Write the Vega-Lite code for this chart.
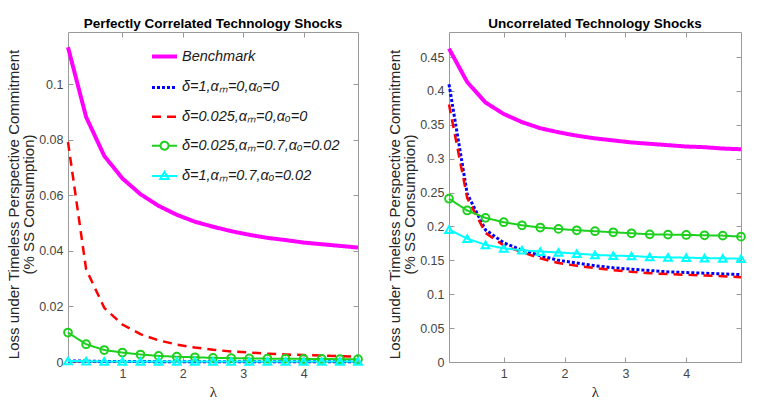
{
"$schema": "https://vega.github.io/schema/vega-lite/v6.json",
"padding": {"left": 6, "top": 17, "right": 5, "bottom": 2},
"background": "white",
"data": {"values": [
{"panel":"L","series":"Benchmark","lambda":0.1,"loss":0.1133},{"panel":"L","series":"Benchmark","lambda":0.4,"loss":0.0882},{"panel":"L","series":"Benchmark","lambda":0.7,"loss":0.0742},{"panel":"L","series":"Benchmark","lambda":1.0,"loss":0.0661},{"panel":"L","series":"Benchmark","lambda":1.3,"loss":0.0604},{"panel":"L","series":"Benchmark","lambda":1.6,"loss":0.0562},{"panel":"L","series":"Benchmark","lambda":1.9,"loss":0.0530},{"panel":"L","series":"Benchmark","lambda":2.2,"loss":0.0505},{"panel":"L","series":"Benchmark","lambda":2.5,"loss":0.0487},{"panel":"L","series":"Benchmark","lambda":2.8,"loss":0.0471},{"panel":"L","series":"Benchmark","lambda":3.1,"loss":0.0458},{"panel":"L","series":"Benchmark","lambda":3.4,"loss":0.0447},{"panel":"L","series":"Benchmark","lambda":3.7,"loss":0.0439},{"panel":"L","series":"Benchmark","lambda":4.0,"loss":0.0430},{"panel":"L","series":"Benchmark","lambda":4.3,"loss":0.0424},{"panel":"L","series":"Benchmark","lambda":4.6,"loss":0.0418},{"panel":"L","series":"Benchmark","lambda":4.9,"loss":0.0412},
{"panel":"L","series":"δ=1,αₘ=0,αₒ=0","lambda":0.1,"loss":0.0004},{"panel":"L","series":"δ=1,αₘ=0,αₒ=0","lambda":0.4,"loss":0.0003},{"panel":"L","series":"δ=1,αₘ=0,αₒ=0","lambda":0.7,"loss":0.0002},{"panel":"L","series":"δ=1,αₘ=0,αₒ=0","lambda":1.0,"loss":0.0002},{"panel":"L","series":"δ=1,αₘ=0,αₒ=0","lambda":1.3,"loss":0.0002},{"panel":"L","series":"δ=1,αₘ=0,αₒ=0","lambda":1.6,"loss":0.0001},{"panel":"L","series":"δ=1,αₘ=0,αₒ=0","lambda":1.9,"loss":0.0001},{"panel":"L","series":"δ=1,αₘ=0,αₒ=0","lambda":2.2,"loss":0.0001},{"panel":"L","series":"δ=1,αₘ=0,αₒ=0","lambda":2.5,"loss":0.0001},{"panel":"L","series":"δ=1,αₘ=0,αₒ=0","lambda":2.8,"loss":0.0001},{"panel":"L","series":"δ=1,αₘ=0,αₒ=0","lambda":3.1,"loss":0.0001},{"panel":"L","series":"δ=1,αₘ=0,αₒ=0","lambda":3.4,"loss":0.0001},{"panel":"L","series":"δ=1,αₘ=0,αₒ=0","lambda":3.7,"loss":0.0001},{"panel":"L","series":"δ=1,αₘ=0,αₒ=0","lambda":4.0,"loss":0.0001},{"panel":"L","series":"δ=1,αₘ=0,αₒ=0","lambda":4.3,"loss":0.0001},{"panel":"L","series":"δ=1,αₘ=0,αₒ=0","lambda":4.6,"loss":0.0001},{"panel":"L","series":"δ=1,αₘ=0,αₒ=0","lambda":4.9,"loss":0.0001},
{"panel":"L","series":"δ=0.025,αₘ=0,αₒ=0","lambda":0.1,"loss":0.0792},{"panel":"L","series":"δ=0.025,αₘ=0,αₒ=0","lambda":0.4,"loss":0.0334},{"panel":"L","series":"δ=0.025,αₘ=0,αₒ=0","lambda":0.7,"loss":0.0195},{"panel":"L","series":"δ=0.025,αₘ=0,αₒ=0","lambda":1.0,"loss":0.0135},{"panel":"L","series":"δ=0.025,αₘ=0,αₒ=0","lambda":1.3,"loss":0.0100},{"panel":"L","series":"δ=0.025,αₘ=0,αₒ=0","lambda":1.6,"loss":0.0078},{"panel":"L","series":"δ=0.025,αₘ=0,αₒ=0","lambda":1.9,"loss":0.0063},{"panel":"L","series":"δ=0.025,αₘ=0,αₒ=0","lambda":2.2,"loss":0.0052},{"panel":"L","series":"δ=0.025,αₘ=0,αₒ=0","lambda":2.5,"loss":0.0044},{"panel":"L","series":"δ=0.025,αₘ=0,αₒ=0","lambda":2.8,"loss":0.0038},{"panel":"L","series":"δ=0.025,αₘ=0,αₒ=0","lambda":3.1,"loss":0.0034},{"panel":"L","series":"δ=0.025,αₘ=0,αₒ=0","lambda":3.4,"loss":0.0030},{"panel":"L","series":"δ=0.025,αₘ=0,αₒ=0","lambda":3.7,"loss":0.0027},{"panel":"L","series":"δ=0.025,αₘ=0,αₒ=0","lambda":4.0,"loss":0.0025},{"panel":"L","series":"δ=0.025,αₘ=0,αₒ=0","lambda":4.3,"loss":0.0023},{"panel":"L","series":"δ=0.025,αₘ=0,αₒ=0","lambda":4.6,"loss":0.0021},{"panel":"L","series":"δ=0.025,αₘ=0,αₒ=0","lambda":4.9,"loss":0.0019},
{"panel":"L","series":"δ=0.025,αₘ=0.7,αₒ=0.02","lambda":0.1,"loss":0.0106},{"panel":"L","series":"δ=0.025,αₘ=0.7,αₒ=0.02","lambda":0.4,"loss":0.0064},{"panel":"L","series":"δ=0.025,αₘ=0.7,αₒ=0.02","lambda":0.7,"loss":0.0043},{"panel":"L","series":"δ=0.025,αₘ=0.7,αₒ=0.02","lambda":1.0,"loss":0.0034},{"panel":"L","series":"δ=0.025,αₘ=0.7,αₒ=0.02","lambda":1.3,"loss":0.0027},{"panel":"L","series":"δ=0.025,αₘ=0.7,αₒ=0.02","lambda":1.6,"loss":0.0022},{"panel":"L","series":"δ=0.025,αₘ=0.7,αₒ=0.02","lambda":1.9,"loss":0.0019},{"panel":"L","series":"δ=0.025,αₘ=0.7,αₒ=0.02","lambda":2.2,"loss":0.0017},{"panel":"L","series":"δ=0.025,αₘ=0.7,αₒ=0.02","lambda":2.5,"loss":0.0015},{"panel":"L","series":"δ=0.025,αₘ=0.7,αₒ=0.02","lambda":2.8,"loss":0.0014},{"panel":"L","series":"δ=0.025,αₘ=0.7,αₒ=0.02","lambda":3.1,"loss":0.0013},{"panel":"L","series":"δ=0.025,αₘ=0.7,αₒ=0.02","lambda":3.4,"loss":0.0012},{"panel":"L","series":"δ=0.025,αₘ=0.7,αₒ=0.02","lambda":3.7,"loss":0.0012},{"panel":"L","series":"δ=0.025,αₘ=0.7,αₒ=0.02","lambda":4.0,"loss":0.0011},{"panel":"L","series":"δ=0.025,αₘ=0.7,αₒ=0.02","lambda":4.3,"loss":0.0011},{"panel":"L","series":"δ=0.025,αₘ=0.7,αₒ=0.02","lambda":4.6,"loss":0.0010},{"panel":"L","series":"δ=0.025,αₘ=0.7,αₒ=0.02","lambda":4.9,"loss":0.0010},
{"panel":"L","series":"δ=1,αₘ=0.7,αₒ=0.02","lambda":0.1,"loss":0.0004},{"panel":"L","series":"δ=1,αₘ=0.7,αₒ=0.02","lambda":0.4,"loss":0.0003},{"panel":"L","series":"δ=1,αₘ=0.7,αₒ=0.02","lambda":0.7,"loss":0.0002},{"panel":"L","series":"δ=1,αₘ=0.7,αₒ=0.02","lambda":1.0,"loss":0.0002},{"panel":"L","series":"δ=1,αₘ=0.7,αₒ=0.02","lambda":1.3,"loss":0.0002},{"panel":"L","series":"δ=1,αₘ=0.7,αₒ=0.02","lambda":1.6,"loss":0.0002},{"panel":"L","series":"δ=1,αₘ=0.7,αₒ=0.02","lambda":1.9,"loss":0.0002},{"panel":"L","series":"δ=1,αₘ=0.7,αₒ=0.02","lambda":2.2,"loss":0.0002},{"panel":"L","series":"δ=1,αₘ=0.7,αₒ=0.02","lambda":2.5,"loss":0.0002},{"panel":"L","series":"δ=1,αₘ=0.7,αₒ=0.02","lambda":2.8,"loss":0.0002},{"panel":"L","series":"δ=1,αₘ=0.7,αₒ=0.02","lambda":3.1,"loss":0.0002},{"panel":"L","series":"δ=1,αₘ=0.7,αₒ=0.02","lambda":3.4,"loss":0.0002},{"panel":"L","series":"δ=1,αₘ=0.7,αₒ=0.02","lambda":3.7,"loss":0.0002},{"panel":"L","series":"δ=1,αₘ=0.7,αₒ=0.02","lambda":4.0,"loss":0.0002},{"panel":"L","series":"δ=1,αₘ=0.7,αₒ=0.02","lambda":4.3,"loss":0.0002},{"panel":"L","series":"δ=1,αₘ=0.7,αₒ=0.02","lambda":4.6,"loss":0.0002},{"panel":"L","series":"δ=1,αₘ=0.7,αₒ=0.02","lambda":4.9,"loss":0.0002},
{"panel":"R","series":"Benchmark","lambda":0.1,"loss":0.4625},{"panel":"R","series":"Benchmark","lambda":0.4,"loss":0.413},{"panel":"R","series":"Benchmark","lambda":0.7,"loss":0.383},{"panel":"R","series":"Benchmark","lambda":1.0,"loss":0.366},{"panel":"R","series":"Benchmark","lambda":1.3,"loss":0.354},{"panel":"R","series":"Benchmark","lambda":1.6,"loss":0.345},{"panel":"R","series":"Benchmark","lambda":1.9,"loss":0.339},{"panel":"R","series":"Benchmark","lambda":2.2,"loss":0.334},{"panel":"R","series":"Benchmark","lambda":2.5,"loss":0.330},{"panel":"R","series":"Benchmark","lambda":2.8,"loss":0.327},{"panel":"R","series":"Benchmark","lambda":3.1,"loss":0.324},{"panel":"R","series":"Benchmark","lambda":3.4,"loss":0.322},{"panel":"R","series":"Benchmark","lambda":3.7,"loss":0.320},{"panel":"R","series":"Benchmark","lambda":4.0,"loss":0.318},{"panel":"R","series":"Benchmark","lambda":4.3,"loss":0.317},{"panel":"R","series":"Benchmark","lambda":4.6,"loss":0.315},{"panel":"R","series":"Benchmark","lambda":4.9,"loss":0.314},
{"panel":"R","series":"δ=1,αₘ=0,αₒ=0","lambda":0.1,"loss":0.410},{"panel":"R","series":"δ=1,αₘ=0,αₒ=0","lambda":0.4,"loss":0.248},{"panel":"R","series":"δ=1,αₘ=0,αₒ=0","lambda":0.7,"loss":0.195},{"panel":"R","series":"δ=1,αₘ=0,αₒ=0","lambda":1.0,"loss":0.176},{"panel":"R","series":"δ=1,αₘ=0,αₒ=0","lambda":1.3,"loss":0.165},{"panel":"R","series":"δ=1,αₘ=0,αₒ=0","lambda":1.6,"loss":0.157},{"panel":"R","series":"δ=1,αₘ=0,αₒ=0","lambda":1.9,"loss":0.150},{"panel":"R","series":"δ=1,αₘ=0,αₒ=0","lambda":2.2,"loss":0.146},{"panel":"R","series":"δ=1,αₘ=0,αₒ=0","lambda":2.5,"loss":0.142},{"panel":"R","series":"δ=1,αₘ=0,αₒ=0","lambda":2.8,"loss":0.139},{"panel":"R","series":"δ=1,αₘ=0,αₒ=0","lambda":3.1,"loss":0.137},{"panel":"R","series":"δ=1,αₘ=0,αₒ=0","lambda":3.4,"loss":0.135},{"panel":"R","series":"δ=1,αₘ=0,αₒ=0","lambda":3.7,"loss":0.133},{"panel":"R","series":"δ=1,αₘ=0,αₒ=0","lambda":4.0,"loss":0.132},{"panel":"R","series":"δ=1,αₘ=0,αₒ=0","lambda":4.3,"loss":0.131},{"panel":"R","series":"δ=1,αₘ=0,αₒ=0","lambda":4.6,"loss":0.130},{"panel":"R","series":"δ=1,αₘ=0,αₒ=0","lambda":4.9,"loss":0.129},
{"panel":"R","series":"δ=0.025,αₘ=0,αₒ=0","lambda":0.1,"loss":0.380},{"panel":"R","series":"δ=0.025,αₘ=0,αₒ=0","lambda":0.4,"loss":0.242},{"panel":"R","series":"δ=0.025,αₘ=0,αₒ=0","lambda":0.7,"loss":0.1905},{"panel":"R","series":"δ=0.025,αₘ=0,αₒ=0","lambda":1.0,"loss":0.172},{"panel":"R","series":"δ=0.025,αₘ=0,αₒ=0","lambda":1.3,"loss":0.162},{"panel":"R","series":"δ=0.025,αₘ=0,αₒ=0","lambda":1.6,"loss":0.153},{"panel":"R","series":"δ=0.025,αₘ=0,αₒ=0","lambda":1.9,"loss":0.146},{"panel":"R","series":"δ=0.025,αₘ=0,αₒ=0","lambda":2.2,"loss":0.142},{"panel":"R","series":"δ=0.025,αₘ=0,αₒ=0","lambda":2.5,"loss":0.1385},{"panel":"R","series":"δ=0.025,αₘ=0,αₒ=0","lambda":2.8,"loss":0.1356},{"panel":"R","series":"δ=0.025,αₘ=0,αₒ=0","lambda":3.1,"loss":0.133},{"panel":"R","series":"δ=0.025,αₘ=0,αₒ=0","lambda":3.4,"loss":0.131},{"panel":"R","series":"δ=0.025,αₘ=0,αₒ=0","lambda":3.7,"loss":0.1297},{"panel":"R","series":"δ=0.025,αₘ=0,αₒ=0","lambda":4.0,"loss":0.1287},{"panel":"R","series":"δ=0.025,αₘ=0,αₒ=0","lambda":4.3,"loss":0.1277},{"panel":"R","series":"δ=0.025,αₘ=0,αₒ=0","lambda":4.6,"loss":0.1267},{"panel":"R","series":"δ=0.025,αₘ=0,αₒ=0","lambda":4.9,"loss":0.125},
{"panel":"R","series":"δ=0.025,αₘ=0.7,αₒ=0.02","lambda":0.1,"loss":0.241},{"panel":"R","series":"δ=0.025,αₘ=0.7,αₒ=0.02","lambda":0.4,"loss":0.2236},{"panel":"R","series":"δ=0.025,αₘ=0.7,αₒ=0.02","lambda":0.7,"loss":0.2127},{"panel":"R","series":"δ=0.025,αₘ=0.7,αₒ=0.02","lambda":1.0,"loss":0.2063},{"panel":"R","series":"δ=0.025,αₘ=0.7,αₒ=0.02","lambda":1.3,"loss":0.2018},{"panel":"R","series":"δ=0.025,αₘ=0.7,αₒ=0.02","lambda":1.6,"loss":0.1984},{"panel":"R","series":"δ=0.025,αₘ=0.7,αₒ=0.02","lambda":1.9,"loss":0.1964},{"panel":"R","series":"δ=0.025,αₘ=0.7,αₒ=0.02","lambda":2.2,"loss":0.1944},{"panel":"R","series":"δ=0.025,αₘ=0.7,αₒ=0.02","lambda":2.5,"loss":0.193},{"panel":"R","series":"δ=0.025,αₘ=0.7,αₒ=0.02","lambda":2.8,"loss":0.1914},{"panel":"R","series":"δ=0.025,αₘ=0.7,αₒ=0.02","lambda":3.1,"loss":0.190},{"panel":"R","series":"δ=0.025,αₘ=0.7,αₒ=0.02","lambda":3.4,"loss":0.1884},{"panel":"R","series":"δ=0.025,αₘ=0.7,αₒ=0.02","lambda":3.7,"loss":0.188},{"panel":"R","series":"δ=0.025,αₘ=0.7,αₒ=0.02","lambda":4.0,"loss":0.1875},{"panel":"R","series":"δ=0.025,αₘ=0.7,αₒ=0.02","lambda":4.3,"loss":0.187},{"panel":"R","series":"δ=0.025,αₘ=0.7,αₒ=0.02","lambda":4.6,"loss":0.1865},{"panel":"R","series":"δ=0.025,αₘ=0.7,αₒ=0.02","lambda":4.9,"loss":0.185},
{"panel":"R","series":"δ=1,αₘ=0.7,αₒ=0.02","lambda":0.1,"loss":0.1954},{"panel":"R","series":"δ=1,αₘ=0.7,αₒ=0.02","lambda":0.4,"loss":0.182},{"panel":"R","series":"δ=1,αₘ=0.7,αₒ=0.02","lambda":0.7,"loss":0.173},{"panel":"R","series":"δ=1,αₘ=0.7,αₒ=0.02","lambda":1.0,"loss":0.1677},{"panel":"R","series":"δ=1,αₘ=0.7,αₒ=0.02","lambda":1.3,"loss":0.165},{"panel":"R","series":"δ=1,αₘ=0.7,αₒ=0.02","lambda":1.6,"loss":0.163},{"panel":"R","series":"δ=1,αₘ=0.7,αₒ=0.02","lambda":1.9,"loss":0.1617},{"panel":"R","series":"δ=1,αₘ=0.7,αₒ=0.02","lambda":2.2,"loss":0.160},{"panel":"R","series":"δ=1,αₘ=0.7,αₒ=0.02","lambda":2.5,"loss":0.158},{"panel":"R","series":"δ=1,αₘ=0.7,αₒ=0.02","lambda":2.8,"loss":0.157},{"panel":"R","series":"δ=1,αₘ=0.7,αₒ=0.02","lambda":3.1,"loss":0.1564},{"panel":"R","series":"δ=1,αₘ=0.7,αₒ=0.02","lambda":3.4,"loss":0.155},{"panel":"R","series":"δ=1,αₘ=0.7,αₒ=0.02","lambda":3.7,"loss":0.1545},{"panel":"R","series":"δ=1,αₘ=0.7,αₒ=0.02","lambda":4.0,"loss":0.1539},{"panel":"R","series":"δ=1,αₘ=0.7,αₒ=0.02","lambda":4.3,"loss":0.1534},{"panel":"R","series":"δ=1,αₘ=0.7,αₒ=0.02","lambda":4.6,"loss":0.153},{"panel":"R","series":"δ=1,αₘ=0.7,αₒ=0.02","lambda":4.9,"loss":0.1524}
]},
"spacing": 21,
"hconcat": [
{
 "width": 290, "height": 330,
 "title": "Perfectly Correlated Technology Shocks",
 "transform": [{"filter": "datum.panel === 'L'"}],
 "resolve": {"axis": {"x": "independent", "y": "independent"}},
 "layer": [
  {"mark": {"type": "line", "strokeCap": "butt"},
   "encoding": {
    "x": {"field": "lambda", "type": "quantitative", "scale": {"domain": [0.1, 4.9], "nice": false, "zero": false}, "axis": {"values": [1, 2, 3, 4], "title": "λ", "titleFont": "Liberation Serif", "titleFontSize": 15, "titlePadding": 5}},
    "y": {"field": "loss", "type": "quantitative", "scale": {"domain": [0, 0.1188], "nice": false}, "axis": {"values": [0, 0.02, 0.04, 0.06, 0.08, 0.1], "format": "~g", "title": ["Loss under Timeless Perspective Commitment", "(% SS Consumption)"], "titleLineHeight": 15, "titlePadding": 2, "titleY": 172}},
    "color": {"field": "series", "type": "nominal",
      "scale": {"domain": ["Benchmark", "δ=1,αₘ=0,αₒ=0", "δ=0.025,αₘ=0,αₒ=0", "δ=0.025,αₘ=0.7,αₒ=0.02", "δ=1,αₘ=0.7,αₒ=0.02"], "range": ["#ff00ff", "#0000ff", "#ff0000", "#1ed01e", "#00ffff"]},
      "legend": {"orient": "none", "legendX": 82, "legendY": 10, "title": null, "symbolSize": 625, "labelFontSize": 14.5, "labelFontStyle": "italic", "labelFont": "Liberation Sans", "labelColor": "#1a1a1a", "rowPadding": 8.4, "labelOffset": 3, "padding": 0,
        "encode": {"symbols": {"update": {
          "shape": {"signal": "indexof(datum.value,'0.7') >= 0 ? (indexof(datum.value,'0.025') >= 0 ? 'M-1,0L-0.32,0M0.32,0L1,0M0.32,0A0.32,0.32,0,1,1,-0.32,0A0.32,0.32,0,1,1,0.32,0' : 'M-1,0L1,0M0,-0.34L0.34,0.24L-0.34,0.24Z') : 'stroke'"},
          "strokeWidth": {"signal": "datum.value === 'Benchmark' ? 4 : (indexof(datum.value,'0.7') >= 0 ? 2 : (indexof(datum.value,'0.025') >= 0 ? 2.5 : 3))"}}}}}},
    "strokeDash": {"field": "series", "type": "nominal", "scale": {"domain": ["Benchmark", "δ=1,αₘ=0,αₒ=0", "δ=0.025,αₘ=0,αₒ=0", "δ=0.025,αₘ=0.7,αₒ=0.02", "δ=1,αₘ=0.7,αₒ=0.02"], "range": [[1, 0], [3, 2], [9, 6], [1, 0], [1, 0]]}},
    "strokeWidth": {"field": "series", "type": "nominal", "legend": null, "scale": {"type": "ordinal", "domain": ["Benchmark", "δ=1,αₘ=0,αₒ=0", "δ=0.025,αₘ=0,αₒ=0", "δ=0.025,αₘ=0.7,αₒ=0.02", "δ=1,αₘ=0.7,αₒ=0.02"], "range": [4, 3, 2.5, 2, 2]}}
   }},
  {"mark": {"type": "point", "filled": false, "strokeWidth": 2, "size": 60, "opacity": 1},
   "transform": [{"filter": {"field": "series", "oneOf": ["δ=0.025,αₘ=0.7,αₒ=0.02", "δ=1,αₘ=0.7,αₒ=0.02"]}}],
   "encoding": {
    "x": {"field": "lambda", "type": "quantitative", "axis": {"orient": "top", "values": [1, 2, 3, 4], "labels": false, "title": null}},
    "y": {"field": "loss", "type": "quantitative", "axis": {"orient": "right", "values": [0, 0.02, 0.04, 0.06, 0.08, 0.1], "labels": false, "title": null}},
    "color": {"field": "series", "type": "nominal", "legend": null},
    "shape": {"field": "series", "type": "nominal", "scale": {"domain": ["δ=0.025,αₘ=0.7,αₒ=0.02", "δ=1,αₘ=0.7,αₒ=0.02"], "range": ["circle", "triangle-up"]}, "legend": null}
   }}
 ]
},
{
 "width": 292, "height": 330,
 "title": "Uncorrelated Technology Shocks",
 "transform": [{"filter": "datum.panel === 'R'"}],
 "resolve": {"axis": {"x": "independent", "y": "independent"}},
 "layer": [
  {"mark": {"type": "line", "strokeCap": "butt"},
   "encoding": {
    "x": {"field": "lambda", "type": "quantitative", "scale": {"domain": [0.1, 4.9], "nice": false, "zero": false}, "axis": {"values": [1, 2, 3, 4], "title": "λ", "titleFont": "Liberation Serif", "titleFontSize": 15, "titlePadding": 5}},
    "y": {"field": "loss", "type": "quantitative", "scale": {"domain": [0, 0.487], "nice": false}, "axis": {"values": [0, 0.05, 0.1, 0.15, 0.2, 0.25, 0.3, 0.35, 0.4, 0.45], "format": "~g", "title": ["Loss under Timeless Perspective Commitment", "(% SS Consumption)"], "titleLineHeight": 15, "titlePadding": 2, "titleY": 172}},
    "color": {"field": "series", "type": "nominal"},
    "strokeDash": {"field": "series", "type": "nominal"},
    "strokeWidth": {"field": "series", "type": "nominal", "legend": null, "scale": {"type": "ordinal", "domain": ["Benchmark", "δ=1,αₘ=0,αₒ=0", "δ=0.025,αₘ=0,αₒ=0", "δ=0.025,αₘ=0.7,αₒ=0.02", "δ=1,αₘ=0.7,αₒ=0.02"], "range": [4, 3, 2.5, 2, 2]}}
   }},
  {"mark": {"type": "point", "filled": false, "strokeWidth": 2, "size": 60, "opacity": 1},
   "transform": [{"filter": {"field": "series", "oneOf": ["δ=0.025,αₘ=0.7,αₒ=0.02", "δ=1,αₘ=0.7,αₒ=0.02"]}}],
   "encoding": {
    "x": {"field": "lambda", "type": "quantitative", "axis": {"orient": "top", "values": [1, 2, 3, 4], "labels": false, "title": null}},
    "y": {"field": "loss", "type": "quantitative", "axis": {"orient": "right", "values": [0, 0.05, 0.1, 0.15, 0.2, 0.25, 0.3, 0.35, 0.4, 0.45], "labels": false, "title": null}},
    "color": {"field": "series", "type": "nominal", "legend": null},
    "shape": {"field": "series", "type": "nominal", "legend": null}
   }}
 ]
}
],
"config": {
 "font": "Liberation Sans",
 "view": {"stroke": null},
 "axis": {"grid": false, "domainColor": "#9a9a9a", "tickColor": "#9a9a9a", "tickSize": -5, "labelPadding": 10, "labelFontSize": 12.5, "labelColor": "#454545", "labelFont": "Liberation Sans", "titleColor": "#262626", "titleFontWeight": "normal", "titleFontSize": 15, "titleFont": "Liberation Sans", "labelOverlap": false},
 "title": {"fontSize": 13.5, "fontWeight": "bold", "color": "#000000", "offset": 1, "font": "Liberation Sans"}
}
}
